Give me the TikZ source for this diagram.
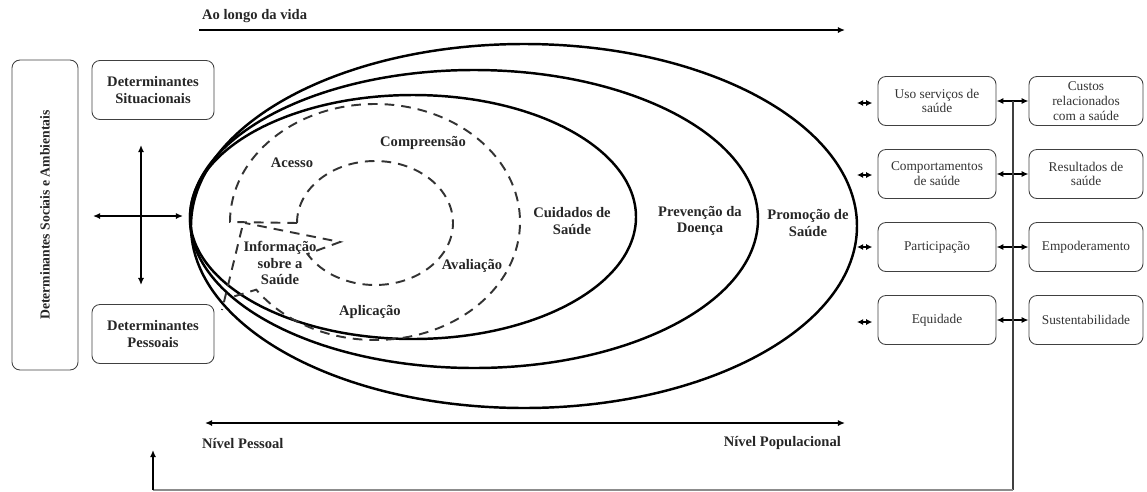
\documentclass[tikz,border=0pt]{standalone}
\usepackage{fontspec}
\setmainfont{Liberation Serif}
\usetikzlibrary{arrows.meta}
\begin{document}
\begin{tikzpicture}[
                    x=0.02cm, y=-0.02cm,
                    every node/.style={align=center, inner sep=1pt},
                    lbl/.style={font=\fontsize{8.3}{9.5}\selectfont\bfseries, text=black!85},
                    box/.style={draw=black!75, line width=0.5pt, rounded corners=4.5pt, text=black!80,
                                font=\fontsize{7.6}{8.4}\selectfont, minimum width=2.36cm, minimum height=0.98cm},
                    sidebox/.style={box, lbl, minimum width=2.44cm, minimum height=1.18cm},
                    ring/.style={line width=1.4pt},
                    dashring/.style={line width=1.1pt, dash pattern=on 5.5pt off 4pt, black!80},
                    arr/.style={line width=0.8pt, -{Latex[length=4pt,width=3.5pt]}},
                    dblarr/.style={line width=0.8pt, {Latex[length=4pt,width=3.5pt]}-{Latex[length=4pt,width=3.5pt]}},
                    tinyarr/.style={line width=0.8pt, {Latex[length=3.5pt,width=3.5pt]}-{Latex[length=3.5pt,width=3.5pt]}}
                ]
                \useasboundingbox (0,0) rectangle (1147,491);
                % ellipses
                \draw[ring] (413,217) ellipse [x radius=223, y radius=122];
                \draw[ring] (474,219) ellipse [x radius=284, y radius=149];
                \draw[ring] (524,226) ellipse [x radius=333, y radius=182];
                \draw[dashring] (297,223) -- (230,222) arc [start angle=180, end angle=505, x radius=145, y radius=118] -- (232,297);
                \draw[dashring] (297,223) arc [start angle=180, end angle=510, x radius=78, y radius=62] -- (340,242) -- (245,223);
                \draw[dashring] (242,228) -- (222,310);
                \node[lbl] (cuid) at (572,221) {Cuidados de\\Saúde};
                \node[lbl] (prev) at (700,221) {Prevenção da\\Doença};
                \node[lbl] (prom) at (808,223) {Promoção de\\Saúde};
                \node[lbl] (compr) at (423,143) {Compreensão};
                \node[lbl] (acesso) at (292,163) {Acesso};
                \node[lbl] (info) at (280,263) {Informação\\sobre a\\Saúde};
                \node[lbl] (aval) at (472,266) {Avaliação};
                \node[lbl] (aplic) at (370,312) {Aplicação};
                % left side
                \node[box, lbl, font=\fontsize{7.8}{9}\selectfont\bfseries, rotate=90, minimum width=6.2cm, minimum height=1.32cm] (dsa) at (45,215) {Determinantes Sociais e Ambientais};
                \node[sidebox] (dsit) at (153,90) {Determinantes\\Situacionais};
                \node[sidebox] (dpes) at (153,334) {Determinantes\\Pessoais};
                \coordinate (ctop) at (141,145);
                \coordinate (cbot) at (141,285);
                \coordinate (cleft) at (93,216);
                \coordinate (cright) at (183,216);
                \draw[dblarr] (ctop) -- (cbot);
                \draw[dblarr] (cleft) -- (cright);
                % top and bottom axes
                \node[lbl, anchor=west] (vida) at (200,16) {Ao longo da vida};
                \coordinate (v0) at (199,30);
                \coordinate (v1) at (845,30);
                \draw[arr] (v0) -- (v1);
                \coordinate (n0) at (205,423);
                \coordinate (n1) at (845,423);
                \draw[dblarr] (n0) -- (n1);
                \node[lbl, anchor=west] (npes) at (200,443) {Nível Pessoal};
                \node[lbl, anchor=east] (npop) at (843,443) {Nível Populacional};
                % right columns
                \node[box] (uso) at (937,101) {Uso serviços de\\saúde};
                \node[box] (comp) at (937,174) {Comportamentos\\de saúde};
                \node[box] (part) at (937,247) {Participação};
                \node[box] (equid) at (937,320) {Equidade};
                \node[box, minimum width=2.28cm] (custos) at (1086,101) {Custos\\relacionados\\com a saúde};
                \node[box, minimum width=2.28cm] (result) at (1086,174) {Resultados de\\saúde};
                \node[box, minimum width=2.28cm] (empod) at (1086,247) {Empoderamento};
                \node[box, minimum width=2.28cm] (sust) at (1086,320) {Sustentabilidade};
                \coordinate (t1) at (857,103);
                \coordinate (t2) at (857,175);
                \coordinate (t3) at (857,247);
                \coordinate (t4) at (857,322);
                \draw[tinyarr] (t1) -- ([xshift=-3pt]uso.west |- t1);
                \draw[tinyarr] (t2) -- ([xshift=-3pt]comp.west |- t2);
                \draw[tinyarr] (t3) -- ([xshift=-3pt]part.west |- t3);
                \draw[tinyarr] (t4) -- ([xshift=-3pt]equid.west |- t4);
                \draw[dblarr] (uso) -- (custos);
                \draw[dblarr] (comp) -- (result);
                \draw[dblarr] (part) -- (empod);
                \draw[dblarr] (equid) -- (sust);
                % feedback line
                \coordinate (fb1) at (1013,101);
                \coordinate (fb2) at (1013,490);
                \coordinate (fb3) at (153,490);
                \coordinate (fb4) at (153,450);
                \draw[line width=0.9pt, black!75] (fb1) -- (fb2);
                \draw[line width=0.6pt, black!45] (fb2) -- (fb3);
                \draw[arr] (fb3) -- (fb4);
                \end{tikzpicture}
\end{document}
